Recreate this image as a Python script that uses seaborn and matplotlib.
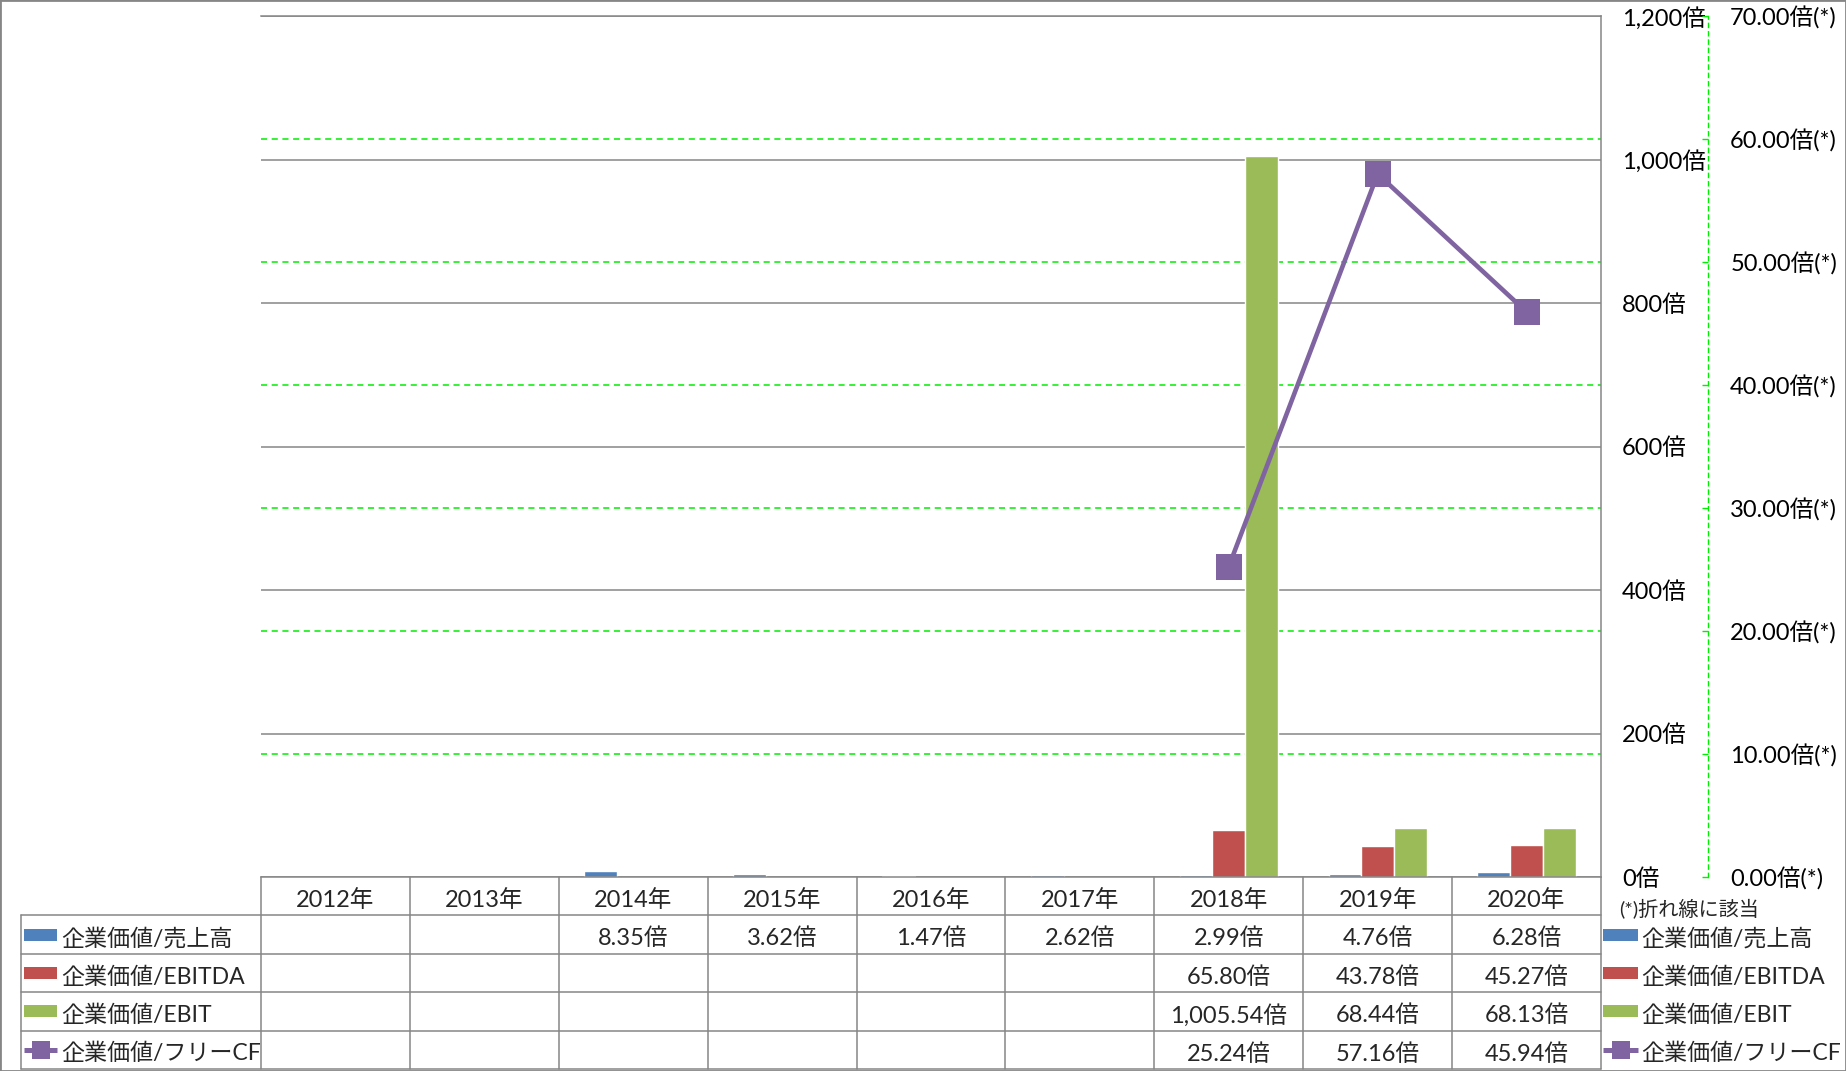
import numpy as np
import pandas as pd
import matplotlib
matplotlib.use("Agg")
import matplotlib.pyplot as plt
import seaborn as sns
from matplotlib.patches import Rectangle

# ---------------- data ----------------
years = ["2012年", "2013年", "2014年", "2015年", "2016年", "2017年", "2018年", "2019年", "2020年"]
series_names = ["企業価値/売上高", "企業価値/EBITDA", "企業価値/EBIT", "企業価値/フリーCF"]
nan = np.nan
ev_sales = [nan, nan, 8.35, 3.62, 1.47, 2.62, 2.99, 4.76, 6.28]
ev_ebitda = [nan, nan, nan, nan, nan, nan, 65.80, 43.78, 45.27]
ev_ebit = [nan, nan, nan, nan, nan, nan, 1005.54, 68.44, 68.13]
ev_fcf = [nan, nan, nan, nan, nan, nan, 25.24, 57.16, 45.94]
left_ticks = [0, 200, 400, 600, 800, 1000, 1200]
right_ticks = [0, 10, 20, 30, 40, 50, 60, 70]
note_text = "(*)折れ線に該当"

# ---------------- style ----------------
colors = ["#4F81BD", "#C0504D", "#9BBB59", "#8064A2"]
GRAY = "#868686"
LIME = "#00EE00"
FS = 17
FS_LEG = 16.6

sns.set_theme(style="white")
plt.rcParams["font.family"] = ["Lato", "Noto Sans CJK JP"]

W, H = 1846, 1071
fig = plt.figure(figsize=(W / 100, H / 100), dpi=100)
fig.patch.set_facecolor("white")

PL, PR, PT, PB = 261, 1601, 16, 877
TL, TB = 21, 1069
ax = fig.add_axes([PL / W, 1 - PB / H, (PR - PL) / W, (PB - PT) / H])

# bars
bar_df = pd.DataFrame({
    "year": years * 3,
    "series": [s for s in series_names[:3] for _ in years],
    "value": ev_sales + ev_ebitda + ev_ebit,
}).dropna()
sns.barplot(data=bar_df, x="year", y="value", hue="series", order=years,
            hue_order=series_names[:3], palette=colors[:3], width=0.66,
            saturation=1, errorbar=None, legend=False, ax=ax, zorder=2)

ax2 = ax.twinx()
line_df = pd.DataFrame({"year": years, "value": ev_fcf}).dropna()
sns.pointplot(data=line_df, x="year", y="value", order=years, color=colors[3],
              markers="s", linestyles="-", errorbar=None, ax=ax2,
              markersize=19, linewidth=3.3, markeredgewidth=0)

# primary axis
ax.set_xlim(-0.5, 8.5)
ax.set_ylim(0, 1200)
ax.set_yticks(left_ticks)
ax.set_yticklabels([f"{v:,}倍" for v in left_ticks])
ax.yaxis.tick_right()
ax.tick_params(axis="y", which="major", length=0, pad=15, labelsize=FS, labelcolor="black")
ax.tick_params(axis="x", length=0, labelbottom=False)
ax.set_xlabel("")
ax.set_ylabel("")
ax.set_axisbelow(True)
ax.grid(axis="y", which="major", color=GRAY, lw=1.1, ls="-")
scale = ax.get_ylim()[1] / right_ticks[-1]
ax.set_yticks([v * scale for v in right_ticks[1:-1]], minor=True)
ax.tick_params(axis="y", which="minor", length=0, labelright=False, labelleft=False)
ax.grid(axis="y", which="minor", color=LIME, lw=1.1, ls=(0, (4, 3)))
ax.spines["left"].set_visible(False)
for s in ["top", "right", "bottom"]:
    ax.spines[s].set_color(GRAY)
    ax.spines[s].set_linewidth(1.1)

# secondary axis
ax2.set_ylim(0, 70)
ax2.set_yticks(right_ticks)
ax2.set_yticklabels([f"{v:.2f}倍(*)" for v in right_ticks])
ax2.set_ylabel("")
ax2.grid(False)
for s in ["top", "left", "bottom"]:
    ax2.spines[s].set_visible(False)
ax2.spines["right"].set_position(("outward", (1708 - PR) * 0.72))
ax2.spines["right"].set_color(LIME)
ax2.spines["right"].set_linestyle((0, (3, 3)))
ax2.spines["right"].set_linewidth(1.0)
ax2.tick_params(axis="y", direction="in", length=4, width=1.0, color=LIME, pad=16,
                labelsize=FS, labelcolor="black")

# ---------------- table ----------------
tax = fig.add_axes([TL / W, 1 - TB / H, (PR - TL) / W, (TB - PB) / H])
cw = (PR - PL) / len(years)
rh = (TB - PB) / 5
x_left = -0.5 - (PL - TL) / cw
tax.set_xlim(x_left, len(years) - 0.5)
tax.set_ylim(5, 0)
tax.axis("off")
dy = 4 / rh  # text baseline nudge


def px2x(px):
    return -0.5 + (px - PL) / cw


for r in range(1, 6):
    tax.plot([x_left, len(years) - 0.5], [r, r], color=GRAY, lw=1.1, clip_on=False)
for i in range(len(years) + 1):
    tax.plot([i - 0.5, i - 0.5], [0, 5], color=GRAY, lw=1.1, clip_on=False)
tax.plot([x_left, x_left], [1, 5], color=GRAY, lw=1.1, clip_on=False)

for i, y in enumerate(years):
    tax.text(i, 0.5 + dy, y, ha="center", va="center", fontsize=FS)
for r, vals in enumerate([ev_sales, ev_ebitda, ev_ebit, ev_fcf], start=1):
    for i, v in enumerate(vals):
        if not np.isnan(v):
            tax.text(i, r + 0.5 + dy, f"{v:,.2f}倍", ha="center", va="center", fontsize=FS)


def legend_entry(x0px, x1px, xtpx, r, k):
    yc = r + 0.5
    x0, x1 = px2x(x0px), px2x(x1px)
    if k < 3:
        h = 12 / rh
        tax.add_patch(Rectangle((x0, yc - h / 2), x1 - x0, h, color=colors[k],
                                clip_on=False, lw=0))
    else:
        tax.plot([x0, x1], [yc, yc], color=colors[k], lw=3.6, clip_on=False,
                 solid_capstyle="butt")
        tax.plot([(x0 + x1) / 2], [yc], marker="s", color=colors[k], ms=13,
                 mew=0, clip_on=False)
    tax.text(px2x(xtpx), yc + dy, series_names[k], ha="left", va="center", fontsize=FS_LEG)


for k in range(4):
    legend_entry(24, 57, 61, k + 1, k)
    legend_entry(1603, 1638, 1641, k + 1, k)

fig.text(1619 / W, 1 - 908 / H, note_text, ha="left", va="center", fontsize=14.5)

fig.add_artist(Rectangle((0, 0), 1, 1, transform=fig.transFigure, fill=False,
                         edgecolor=GRAY, lw=2))

fig.savefig("out.png", dpi=100)
